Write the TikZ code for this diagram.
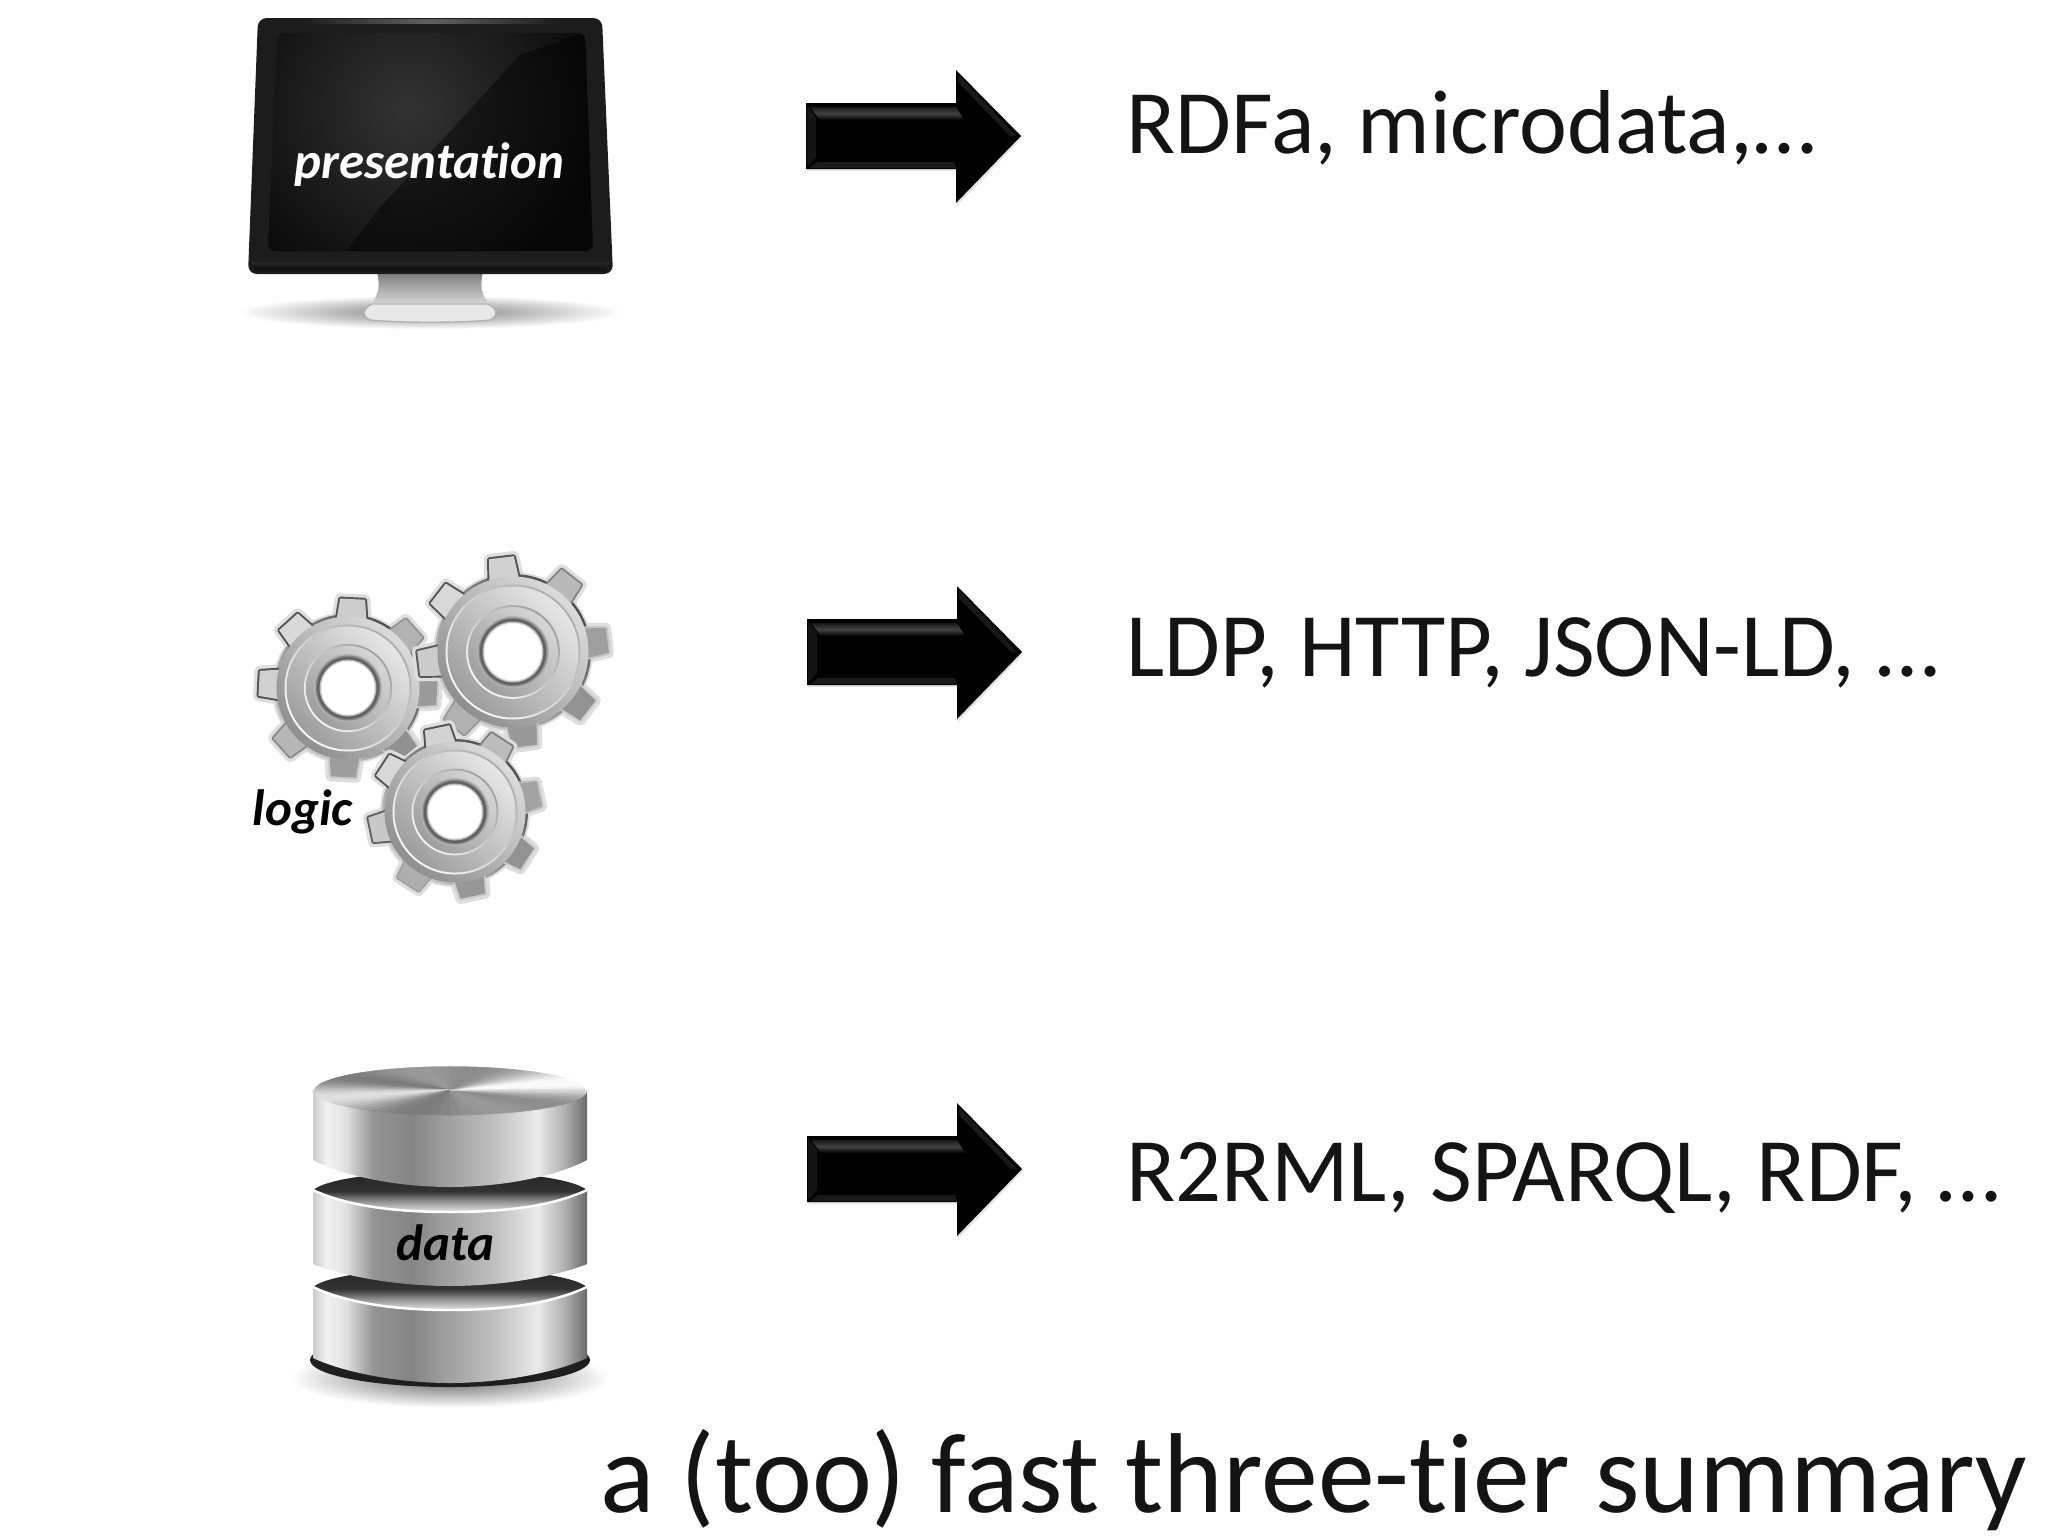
\documentclass[tikz,border=0pt]{standalone}
\usepackage{fontspec}
\setmainfont[Ligatures=NoCommon]{Carlito}
\usetikzlibrary{calc}
\definecolor{scr}{HTML}{0B0B0B}
\definecolor{body}{HTML}{1C1C1C}
\pgfdeclarehorizontalshading{cylside}{100bp}{
 color(0bp)=(black!20);
 color(25bp)=(black!20);
 color(27.5bp)=(black!5);
 color(31bp)=(black!12);
 color(36bp)=(black!42);
 color(43bp)=(black!48);
 color(49bp)=(black!38);
 color(58bp)=(black!25);
 color(66bp)=(black!8);
 color(71bp)=(black!32);
 color(75bp)=(black!58);
 color(100bp)=(black!58)}
\pgfdeclareverticalshading{gapsurf}{100bp}{
 color(0bp)=(black!10);
 color(25bp)=(black!10);
 color(36bp)=(black!42);
 color(47bp)=(black!80);
 color(75bp)=(black!88);
 color(100bp)=(black!88)}
\pgfdeclareverticalshading{gearrim}{100bp}{
 color(0bp)=(black!20);
 color(25bp)=(black!20);
 color(75bp)=(black!70);
 color(100bp)=(black!70)}
\tikzset{
 bigtext/.style={inner sep=0pt,anchor=base west,font=\fontsize{25.8}{30}\selectfont,text=black!92},
 titletext/.style={inner sep=0pt,anchor=base west,font=\fontsize{32.3}{36}\selectfont,text=black!92},
 tierlabel/.style={inner sep=0pt,anchor=base west,font=\fontsize{14.5}{16}\selectfont\bfseries\itshape},
}
\newcommand\toothpath[4]{% cx cy rBase rTip (uses \a)
 ({#1+(#3)*cos(\a)+15.5*sin(\a)},{#2-(#3)*sin(\a)+15.5*cos(\a)})
   -- ({#1+(#4)*cos(\a)+12.5*sin(\a)},{#2-(#4)*sin(\a)+12.5*cos(\a)})
   -- ({#1+(#4)*cos(\a)-12.5*sin(\a)},{#2-(#4)*sin(\a)-12.5*cos(\a)})
   -- ({#1+(#3)*cos(\a)-15.5*sin(\a)},{#2-(#3)*sin(\a)-15.5*cos(\a)}) -- cycle}
% gear: cx cy rDisk rTip rot rHole
\newcommand\gearicon[6]{%
 % soft halo
 \foreach \k in {0,...,7}{%
  \pgfmathsetmacro\a{#5+45*\k}
  \path[draw=black!13,fill=black!13,line width=3pt,line join=round] \toothpath{#1}{#2}{#3}{#4-1};
 }
 \fill[black!13] (#1,#2) circle ({#3+13});
 % outline pass
 \path[shading=gearrim,shading angle=-45] (#1,#2) circle ({#3+11});
 \foreach \k in {0,...,7}{%
  \pgfmathsetmacro\a{#5+45*\k}
  \pgfmathsetmacro\t{cos(\a-135)}
  \pgfmathsetmacro\ov{min(.8,max(.32,.56-.34*\t))}
  \definecolor{to}{gray}{\ov}
  \path[draw=to,fill=to,line width=1.1pt,line join=round] \toothpath{#1}{#2}{#3}{#4-1};
 }
 % fill pass
 \foreach \k in {0,...,7}{%
  \pgfmathsetmacro\a{#5+45*\k}
  \pgfmathsetmacro\t{cos(\a-135)}
  \pgfmathsetmacro\gv{.71+.14*\t}
  \definecolor{tf}{gray}{\gv}
  \path[fill=tf] \toothpath{#1}{#2}{#3}{#4-1};
 }
 \path[top color=black!14,bottom color=black!44,shading angle=-45] (#1,#2) circle ({#3+8.5});
 % main plate
 \path[top color=black!32,bottom color=black!2,shading angle=-45] (#1,#2) circle ({#3+.5});
 \path[top color=black!10,bottom color=black!38,shading angle=-45] (#1,#2) circle ({#3-1.5});
 % raised ring
 \path[top color=black!38,bottom color=black!3,shading angle=-45] (#1,#2) circle ({#3*.70});
 \path[top color=black!16,bottom color=black!38,shading angle=-45] (#1,#2) circle ({#3*.67});
 % hole
 \fill[black!30] (#1,#2) circle ({#6+4});
 \fill[black!48] (#1,#2) circle ({#6+2.5});
 \fill[black!62] (#1,#2) circle ({#6+1});
 \fill[black!30] (#1,#2) circle ({#6-1.5});
 \fill[black!12] (#1,#2) circle ({#6-2.5});
 \fill[white] (#1,#2) circle ({#6-3.5});
}
% block arrow: name, left x, cy
\newcommand\blockarrow[3]{%
 \coordinate (#1tail) at (#2,#3);
 \coordinate (#1tip) at ({#2+215},#3);
 \fill[black!10] ($(#1tail)+(1,-30)$) -- ++(150,0) -- ++(0,-33) -- ($(#1tip)+(1,2)$) -- ++(-65,68) -- ++(0,-35) -- ++(-150,0) -- cycle;
 \fill[black] ($(#1tail)+(0,-33)$) -- ++(150,0) -- ++(0,-33) -- (#1tip) -- ++(-65,67) -- ++(0,-34) -- ++(-150,0) -- cycle;
 \path[top color=black!90,bottom color=black,middle color=black!74] ($(#1tail)+(4,-29)$) -- ++(146,0) -- ++(8,13) -- ++(-144,0) -- cycle;
 \fill[black!92] ($(#1tail)+(1,-31)$) -- ++(9,12) -- ++(0,40) -- ++(-9,10) -- cycle;
 \fill[black!90] ($(#1tail)+(3,32)$) -- ++(8,-6) -- ++(137,0) -- ++(2,6) -- cycle;
 \fill[black!90] ($(#1tail)+(152,-62)$) -- ++(58,62) -- ++(-6,0) -- ++(-52,-54) -- cycle;
}
\begin{document}
\begin{tikzpicture}[x=0.01cm,y=-0.01cm]
\useasboundingbox (0,0) rectangle (2048,1536);
\fill[white] (0,0) rectangle (2048,1536);

%% ---------- monitor
\path[inner color=black!52,outer color=white] (430,312) ellipse (192 and 17);
\path[top color=black!52,bottom color=black!6] (377,272) .. controls (381,290) and (378,298) .. (363,312) -- (497,312) .. controls (482,298) and (479,290) .. (483,272) -- cycle;
\path[fill=black!9,draw=black!30,line width=.4pt] (372,304) -- (488,304) .. controls (497,308) and (499,316) .. (490,320) .. controls (460,323) and (400,323) .. (370,320) .. controls (361,316) and (363,308) .. (372,304) -- cycle;
\fill[body,rounded corners=2.5pt] (258,18) -- (602,18) -- (613,274) -- (248,274) -- cycle;
\path[left color=body,right color=body,middle color=black!62] (300,19) rectangle (560,23);
\path[top color=black!84,bottom color=black!90] (252,262) rectangle (609,266);
\fill[black!92] (254,267) rectangle (607,272);
\begin{scope}
 \clip[rounded corners=2pt] (278,33) -- (585,33) -- (593,251) -- (268,251) -- cycle;
 \fill[scr] (260,20) rectangle (600,260);
 \path[inner color=black!80,outer color=scr] (407,110) circle (190);
 \fill[black,opacity=.42] (520,55) -- (378,210) -- (340,260) -- (620,260) -- (620,20) -- cycle;
\end{scope}
\node[tierlabel,text=white] (presentation) at (294,178) {presentation};

%% ---------- gears
\gearicon{348}{688}{63}{90}{-3}{30}
\gearicon{513}{652}{67}{96}{7}{32}
\gearicon{455}{812}{62}{87}{12}{30}
\node[tierlabel,text=black] (logic) at (252,825) {logic};

%% ---------- database
\path[inner color=black!62,outer color=white] (450,1378) ellipse (160 and 30);
% bottom tier
\fill[black!88] (450,1360) ellipse (140 and 27);
\path[shading=cylside] (313,1287) -- (313,1358) .. controls (345,1373) and (400,1383) .. (450,1383) .. controls (500,1383) and (555,1373) .. (587,1358) -- (587,1287) -- cycle;
\path[shading=gapsurf] (313,1287) .. controls (345,1262) and (555,1262) .. (587,1287) .. controls (555,1302) and (510,1310) .. (450,1310) .. controls (390,1310) and (345,1302) .. (313,1287) -- cycle;
\draw[white,line width=.7pt] (313,1287) .. controls (345,1302) and (390,1310) .. (450,1310) .. controls (510,1310) and (555,1302) .. (587,1287);
% middle tier
\path[shading=cylside] (313,1190) -- (313,1264) .. controls (345,1277) and (400,1286) .. (450,1286) .. controls (500,1286) and (555,1277) .. (587,1264) -- (587,1190) -- cycle;
\path[shading=gapsurf] (313,1190) .. controls (345,1165) and (555,1165) .. (587,1190) .. controls (555,1205) and (510,1212) .. (450,1212) .. controls (390,1212) and (345,1205) .. (313,1190) -- cycle;
\draw[white,line width=.7pt] (313,1190) .. controls (345,1205) and (390,1212) .. (450,1212) .. controls (510,1212) and (555,1205) .. (587,1190);
% top tier
\path[shading=cylside] (313,1090) -- (313,1160) .. controls (345,1177) and (400,1187) .. (450,1187) .. controls (500,1187) and (555,1177) .. (587,1160) -- (587,1090) -- cycle;
\foreach \a in {0,5,...,355}{%
 \pgfmathsetmacro\gv{min(.98,max(.45,.66+.17*cos(2*(\a+2.5-20))+.11*cos(4*(\a+2.5-20))+.06*cos(\a+2.5-20)))}
 \definecolor{wc}{gray}{\gv}
 \path[fill=wc,draw=wc,line width=.2pt] (450,1090) -- ({450+137*cos(\a)},{1090-25*sin(\a)}) -- ({450+137*cos(\a+2.5)},{1090-25*sin(\a+2.5)}) -- ({450+137*cos(\a+5)},{1090-25*sin(\a+5)}) -- cycle;
}
\draw[white,line width=.7pt] (313,1090) arc[start angle=180,delta angle=180,x radius=137,y radius=25];
\node[tierlabel,text=black] (data) at (396,1260) {data};

%% ---------- arrows
\blockarrow{ap}{806}{136}
\blockarrow{al}{807}{652}
\blockarrow{ad}{807}{1169}

%% ---------- text
\node[bigtext] (rdfa) at (1126,153) {RDFa, microdata,…};
\node[bigtext] (ldp) at (1126,676) {LDP, HTTP, JSON-LD, …};
\node[bigtext] (r2rml) at (1126,1201) {R2RML, SPARQL, RDF, …};
\node[titletext] (summary) at (600,1512) {a (too) fast three-tier summary};
\end{tikzpicture}
\end{document}
